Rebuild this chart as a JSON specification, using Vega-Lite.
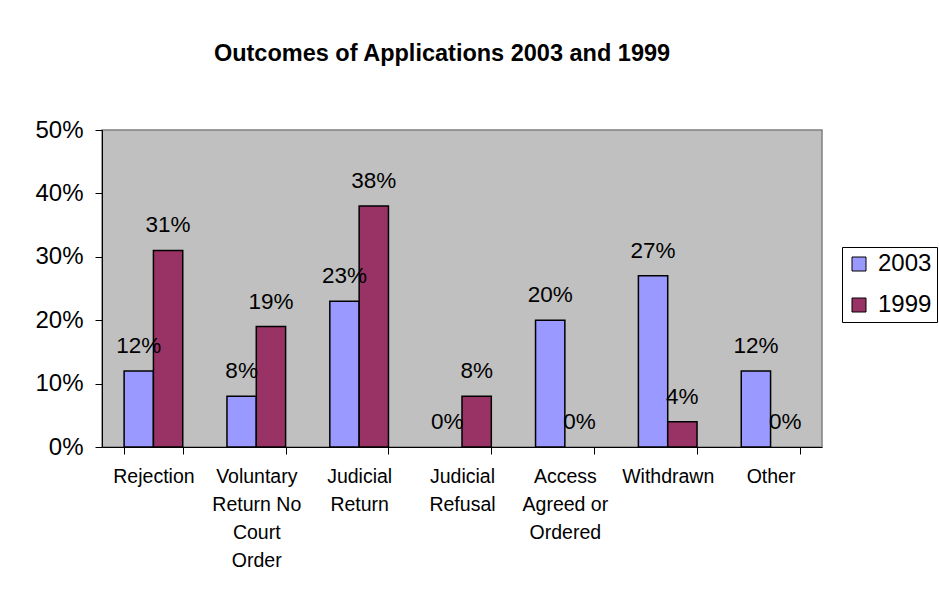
{
  "$schema": "https://vega.github.io/schema/vega-lite/v6.json",
  "width": 720,
  "height": 317,
  "autosize": {"type": "none"},
  "padding": {"left": 102, "top": 130, "right": 117, "bottom": 147},
  "background": "white",
  "title": {
    "text": "Outcomes of Applications 2003 and 1999",
    "font": "Liberation Sans",
    "fontSize": 23.5,
    "fontWeight": "bold",
    "color": "black",
    "anchor": "middle",
    "dx": -20,
    "baseline": "alphabetic",
    "offset": 34
  },
  "data": {
    "values": [
      {"outcome": "Rejection", "year": "2003", "value": 0.12},
      {"outcome": "Rejection", "year": "1999", "value": 0.31},
      {"outcome": "Voluntary Return No Court Order", "year": "2003", "value": 0.08},
      {"outcome": "Voluntary Return No Court Order", "year": "1999", "value": 0.19},
      {"outcome": "Judicial Return", "year": "2003", "value": 0.23},
      {"outcome": "Judicial Return", "year": "1999", "value": 0.38},
      {"outcome": "Judicial Refusal", "year": "2003", "value": 0.0},
      {"outcome": "Judicial Refusal", "year": "1999", "value": 0.08},
      {"outcome": "Access Agreed or Ordered", "year": "2003", "value": 0.20},
      {"outcome": "Access Agreed or Ordered", "year": "1999", "value": 0.0},
      {"outcome": "Withdrawn", "year": "2003", "value": 0.27},
      {"outcome": "Withdrawn", "year": "1999", "value": 0.04},
      {"outcome": "Other", "year": "2003", "value": 0.12},
      {"outcome": "Other", "year": "1999", "value": 0.0}
    ]
  },
  "encoding": {
    "x": {
      "field": "outcome",
      "type": "nominal",
      "sort": null,
      "scale": {"paddingInner": 0.43, "paddingOuter": 0.215},
      "axis": {
        "title": null,
        "labelAngle": 0,
        "labelFont": "Liberation Sans",
        "labelFontSize": 19.5,
        "labelColor": "black",
        "labelBaseline": "top",
        "labelLineHeight": 28,
        "labelPadding": 13,
        "labelLimit": 300,
        "labelOverlap": false,
        "labelFlush": false,
        "tickBand": "extent",
        "tickSize": 7,
        "tickColor": "black",
        "domainColor": "black",
        "grid": false,
        "labelExpr": "datum.value == 'Voluntary Return No Court Order' ? ['Voluntary','Return No','Court','Order'] : datum.value == 'Judicial Return' ? ['Judicial','Return'] : datum.value == 'Judicial Refusal' ? ['Judicial','Refusal'] : datum.value == 'Access Agreed or Ordered' ? ['Access','Agreed or','Ordered'] : datum.value"
      }
    },
    "xOffset": {"field": "year", "type": "nominal", "sort": ["2003", "1999"]},
    "y": {
      "field": "value",
      "type": "quantitative",
      "scale": {"domain": [0, 0.5], "nice": false},
      "axis": {
        "title": null,
        "format": ".0%",
        "values": [0, 0.1, 0.2, 0.3, 0.4, 0.5],
        "labelFont": "Liberation Sans",
        "labelFontSize": 24,
        "labelColor": "black",
        "labelPadding": 12,
        "tickSize": 7,
        "tickColor": "black",
        "domainColor": "black",
        "grid": false
      }
    }
  },
  "layer": [
    {
      "transform": [{"filter": "datum.value > 0"}],
      "mark": {"type": "bar", "stroke": "black", "strokeWidth": 1.5},
      "encoding": {
        "color": {
          "field": "year",
          "type": "nominal",
          "scale": {"domain": ["2003", "1999"], "range": ["#9999FF", "#993366"]},
          "legend": {
            "title": null,
            "orient": "none",
            "legendX": 740,
            "legendY": 117,
            "fillColor": "white",
            "strokeColor": "black",
            "padding": 5,
            "symbolOffset": 0,
            "symbolType": "square",
            "symbolSize": 196,
            "symbolStrokeColor": "black",
            "symbolStrokeWidth": 1,
            "labelFont": "Liberation Sans",
            "labelFontSize": 24,
            "labelColor": "black",
            "labelOffset": 7,
            "rowPadding": 17
          }
        }
      }
    },
    {
      "mark": {"type": "text", "dy": -18, "baseline": "alphabetic", "font": "Liberation Sans", "fontSize": 22.5, "color": "black"},
      "encoding": {"text": {"field": "value", "type": "quantitative", "format": ".0%"}}
    }
  ],
  "config": {
    "view": {"fill": "#C0C0C0", "stroke": "#808080", "strokeWidth": 1.5}
  }
}
